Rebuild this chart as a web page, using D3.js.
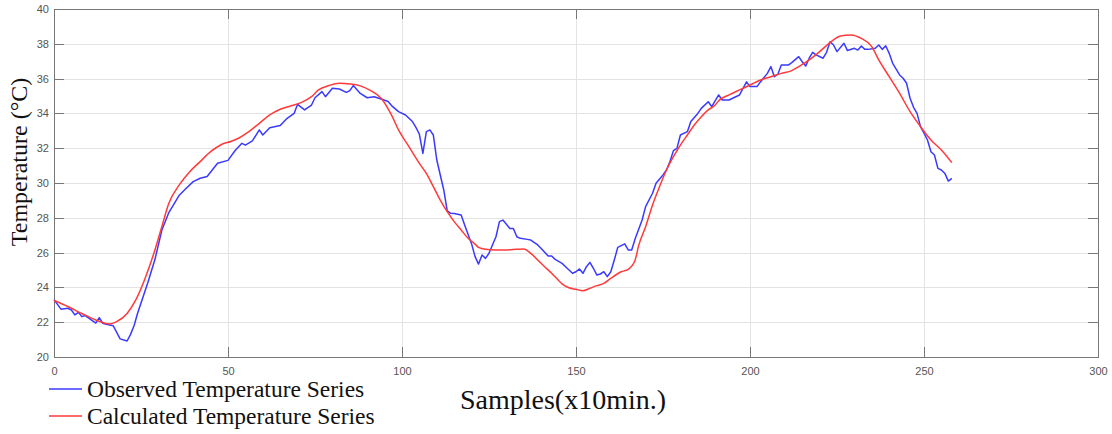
<!DOCTYPE html>
<html>
<head>
<meta charset="utf-8">
<script src="https://cdn.jsdelivr.net/npm/d3@7"></script>
<style>
  html, body { margin: 0; padding: 0; background: #fff; }
  svg { display: block; }
</style>
</head>
<body>
<svg id="graphArea" width="1112" height="434"></svg>
<script>

// observed series (sample index, temperature)
let obsSamples = [
  0, 2, 4, 5, 6, 7, 8, 9, 10, 12, 13, 14, 15, 17, 19, 21, 22, 23, 24, 27,
  29, 31, 33, 36, 38, 40, 42, 44, 47, 50, 52, 54, 55, 57, 59, 60, 62, 65, 67, 69,
  70, 72, 74, 75, 77, 78, 80, 82, 84, 85, 86, 88, 90, 92, 94, 96, 97, 99, 101, 103,
  104, 105, 106, 107, 108, 109, 110, 111, 112, 113, 114, 115, 117, 118, 120, 121, 122, 123, 124, 125,
  127, 128, 129, 131, 132, 133, 134, 136, 137, 139, 140, 142, 143, 144, 146, 147, 149, 150, 151, 152,
  153, 154, 155, 156, 157, 158, 159, 160, 161, 162, 164, 165, 166, 167, 169, 170, 172, 173, 175, 176,
  177, 178, 179, 180, 182, 183, 185, 186, 188, 189, 191, 192, 194, 195, 197, 199, 200, 202, 203, 205,
  206, 207, 208, 209, 211, 212, 214, 215, 216, 217, 218, 219, 221, 222, 223, 224, 225, 227, 228, 230,
  231, 232, 233, 234, 236, 237, 238, 239, 240, 241, 243, 244, 245, 246, 247, 248, 249, 250, 251, 252,
  253, 254, 255, 256, 257, 258
];
let obsTemps = [
  23.3, 22.75, 22.8, 22.7, 22.42, 22.57, 22.32, 22.38, 22.23, 21.95, 22.26, 21.94, 21.88, 21.8, 21.04, 20.92, 21.3, 21.8, 22.5, 24.3,
  25.6, 27.3, 28.3, 29.3, 29.7, 30.08, 30.27, 30.37, 31.13, 31.3, 31.85, 32.28, 32.18, 32.42, 33.05, 32.76, 33.18, 33.3, 33.72, 34.0,
  34.52, 34.2, 34.48, 34.9, 35.25, 34.96, 35.44, 35.4, 35.21, 35.31, 35.6, 35.15, 34.9, 34.96, 34.83, 34.68, 34.45, 34.1, 33.91, 33.53,
  33.2, 32.8, 31.7, 32.95, 33.05, 32.76, 31.32, 30.46, 29.6, 28.4, 28.26, 28.25, 28.16, 27.59, 26.5, 25.77, 25.34, 25.86, 25.67, 25.96,
  26.91, 27.78, 27.87, 27.39, 27.39, 26.91, 26.82, 26.76, 26.72, 26.44, 26.24, 25.8, 25.8, 25.61, 25.38, 25.19, 24.81, 24.9, 25.06, 24.81,
  25.19, 25.44, 25.1, 24.71, 24.77, 24.9, 24.62, 24.9, 25.57, 26.3, 26.5, 26.15, 26.15, 26.8, 27.87, 28.64, 29.41, 29.98, 30.46, 30.75,
  31.23, 31.86, 31.99, 32.76, 32.95, 33.53, 34.0, 34.29, 34.67, 34.39, 35.06, 34.77, 34.77, 34.87, 35.06, 35.81, 35.54, 35.54, 35.81, 36.3,
  36.69, 36.11, 36.25, 36.78, 36.78, 36.92, 37.26, 36.97, 36.72, 37.17, 37.51, 37.36, 37.17, 37.51, 38.12, 37.93, 37.55, 38.03, 37.61, 37.74,
  37.64, 37.87, 37.68, 37.68, 37.74, 37.93, 37.68, 37.89, 37.45, 36.88, 36.21, 36.02, 35.73, 34.87, 34.35, 34.0, 33.24, 32.86, 32.47, 31.8,
  31.61, 30.84, 30.75, 30.55, 30.11, 30.27
];

// calculated series (sample index, temperature)
let calcSamples = [
  0, 4, 8, 12, 16, 18, 21, 23.5, 26, 29, 31, 33, 36, 39, 42, 45, 48, 51, 53, 56,
  59, 62, 65, 68, 71, 74, 76, 79, 82, 85, 88, 91, 94, 97, 99, 102, 105, 107, 109, 111,
  113, 115, 117, 119, 121, 122, 124, 127, 130, 133, 135, 137, 139, 141, 143, 145, 146, 148, 150, 152,
  154, 156, 158, 160, 163, 165, 167, 168, 170, 172, 174, 176, 178, 180, 182, 184, 186, 188, 190, 191,
  194, 197, 200, 203, 206, 209, 212, 214, 217, 220, 223, 226, 229, 232, 235, 237, 240, 243, 246, 249,
  252, 255, 258
];
let calcTemps = [
  23.25, 22.9, 22.5, 22.13, 21.9, 22.03, 22.5, 23.28, 24.43, 26.15, 27.5, 28.83, 29.89, 30.65, 31.23, 31.8, 32.2, 32.4, 32.57, 32.95,
  33.43, 33.91, 34.24, 34.43, 34.62, 34.96, 35.35, 35.6, 35.73, 35.69, 35.58, 35.31, 34.87, 33.9, 33.05, 32.09, 31.13, 30.55, 29.79, 29.02,
  28.35, 27.78, 27.3, 26.82, 26.49, 26.3, 26.19, 26.15, 26.15, 26.19, 26.21, 25.96, 25.57, 25.19, 24.81, 24.4, 24.2, 23.98, 23.89, 23.81,
  23.95, 24.1, 24.23, 24.52, 24.9, 25.04, 25.58, 26.4, 27.49, 28.74, 29.79, 30.75, 31.51, 32.18, 32.76, 33.33, 33.81, 34.2, 34.48, 34.73,
  35.06, 35.35, 35.63, 35.92, 36.11, 36.3, 36.46, 36.69, 37.07, 37.55, 38.07, 38.45, 38.51, 38.31, 37.84, 37.07, 36.11, 35.15, 34.1, 33.24,
  32.47, 31.9, 31.17
];

// tick labels
let xTicks = [0, 50, 100, 150, 200, 250, 300];
let yTicks = [20, 22, 24, 26, 28, 30, 32, 34, 36, 38, 40];

// legend / axis titles
let seriesNames = ["Observed Temperature Series", "Calculated Temperature Series"];
let seriesColors = ["#3a3aff", "#ff3a3a"];
let xTitle = "Samples(x10min.)";
let yTitle = "Temperature (\u00b0C)";

/* main */
let svg = d3.select("#graphArea");
let margin = {top: 9, right: 14, bottom: 77, left: 54};
let width = 1112;
let height = 434;

// scales
let x = d3.scaleLinear()
  .domain([0, 300])
  .range([margin.left, width - margin.right]);
let y = d3.scaleLinear()
  .domain([20, 40])
  .range([height - margin.bottom, margin.top]);

let innerW = width - margin.left - margin.right;
let innerH = height - margin.top - margin.bottom;

// grid lines
svg.append("g")
  .attr("class", "x-grid")
  .attr("transform", `translate(0,${margin.top})`)
  .call(d3.axisBottom(x).tickValues(xTicks).tickSize(innerH).tickFormat(""))
  .call(g => g.select(".domain").remove())
  .selectAll("line")
  .attr("stroke", "#e3e3e3")
  .attr("shape-rendering", "crispEdges");
svg.append("g")
  .attr("class", "y-grid")
  .attr("transform", `translate(${margin.left},0)`)
  .call(d3.axisRight(y).tickValues(yTicks).tickSize(innerW).tickFormat(""))
  .call(g => g.select(".domain").remove())
  .selectAll("line")
  .attr("stroke", "#e3e3e3")
  .attr("shape-rendering", "crispEdges");

// bottom axis (inward ticks)
let xAxis = svg.append("g")
  .attr("class", "x-axis")
  .attr("transform", `translate(0,${height - margin.bottom})`)
  .call(d3.axisBottom(x).tickValues(xTicks).tickSizeInner(-10).tickSizeOuter(0).tickPadding(10));

// left axis (inward ticks)
let yAxis = svg.append("g")
  .attr("class", "y-axis")
  .attr("transform", `translate(${margin.left},0)`)
  .call(d3.axisLeft(y).tickValues(yTicks).tickSizeInner(-10).tickSizeOuter(0).tickPadding(5));

// top / right axes, ticks only
svg.append("g")
  .attr("class", "x-axis")
  .attr("transform", `translate(0,${margin.top})`)
  .call(d3.axisTop(x).tickValues(xTicks).tickSizeInner(-10).tickSizeOuter(0).tickFormat(""));
svg.append("g")
  .attr("class", "y-axis")
  .attr("transform", `translate(${width - margin.right},0)`)
  .call(d3.axisRight(y).tickValues(yTicks).tickSizeInner(-10).tickSizeOuter(0).tickFormat(""));

// axis styles
svg.selectAll("g.x-axis path, g.y-axis path, g.x-axis line, g.y-axis line")
  .attr("stroke", "#777")
  .attr("stroke-width", 1)
  .attr("shape-rendering", "crispEdges");
svg.selectAll("g.x-axis text, g.y-axis text")
  .attr("fill", "#555")
  .style("font-family", "'Liberation Sans', Arial, sans-serif")
  .style("font-size", "11px");

// lines
let obsData = obsSamples.map((s, i) => [s, obsTemps[i]]);
let calcData = calcSamples.map((s, i) => [s, calcTemps[i]]);

let obsLine = d3.line()
  .x(d => x(d[0]))
  .y(d => y(d[1]));
let calcLine = d3.line()
  .curve(d3.curveMonotoneX)
  .x(d => x(d[0]))
  .y(d => y(d[1]));

svg.append("path")
  .datum(obsData)
  .attr("d", obsLine)
  .attr("fill", "none")
  .attr("stroke", seriesColors[0])
  .attr("stroke-width", 1.5)
  .attr("stroke-linejoin", "round");
svg.append("path")
  .datum(calcData)
  .attr("d", calcLine)
  .attr("fill", "none")
  .attr("stroke", seriesColors[1])
  .attr("stroke-width", 1.5);

// axis titles
svg.append("text")
  .attr("x", 563)
  .attr("y", 409)
  .attr("text-anchor", "middle")
  .attr("fill", "#111")
  .style("font-family", "'Liberation Serif', 'Times New Roman', serif")
  .style("font-size", "28px")
  .text(xTitle);
svg.append("text")
  .attr("transform", "translate(27,162) rotate(-90)")
  .attr("text-anchor", "middle")
  .attr("fill", "#111")
  .style("font-family", "'Liberation Serif', 'Times New Roman', serif")
  .style("font-size", "24px")
  .text(yTitle);

// legend
let legend = svg.append("g").attr("class", "legend");
seriesNames.forEach((name, i) => {
  let ly = 389 + i * 27;
  legend.append("line")
    .attr("x1", 49).attr("x2", 82)
    .attr("y1", ly).attr("y2", ly)
    .attr("stroke", seriesColors[i])
    .attr("stroke-width", 1.5);
  legend.append("text")
    .attr("x", 87)
    .attr("y", ly + 8)
    .attr("fill", "#111")
    .style("font-family", "'Liberation Serif', 'Times New Roman', serif")
    .style("font-size", "23.5px")
    .text(name);
});

</script>
</body>
</html>
